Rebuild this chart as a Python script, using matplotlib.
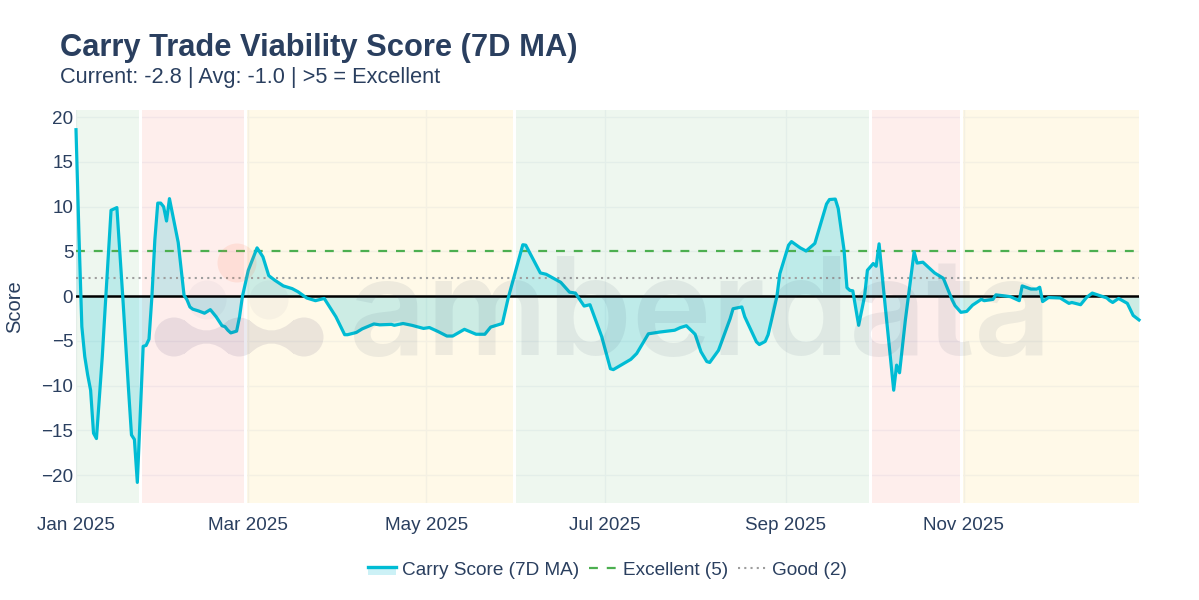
"""Carry trade viability score chart with regime bands and a watermark."""
from __future__ import annotations

import matplotlib

matplotlib.use("Agg")

import matplotlib.dates as mdates
import matplotlib.pyplot as plt
import pandas as pd
from matplotlib.colors import to_rgba
from matplotlib.legend_handler import HandlerBase
from matplotlib.lines import Line2D
from matplotlib.patches import Circle, PathPatch, Patch, Rectangle
from matplotlib.path import Path

START = pd.Timestamp("2025-01-01")

# days since START
DAYS = [
    0, 1, 2, 3, 4, 5, 6, 7, 9, 10, 12, 14, 16, 18, 19, 20, 21, 23, 24, 25, 26, 27, 28, 29, 30,
    31, 32, 35, 37, 38, 39, 40, 42, 44, 46, 48, 50, 51, 52, 53, 55, 56, 57, 59, 62, 64, 66, 68,
    71, 74, 76, 79, 82, 85, 89, 92, 93, 96, 98, 102, 104, 108, 109, 112, 115, 119, 121, 124,
    127, 129, 133, 137, 140, 142, 146, 148, 153, 154, 159, 161, 166, 169, 171, 174, 176, 180,
    183, 184, 190, 192, 196, 200, 205, 207, 209, 212, 214, 216, 217, 220, 224, 225, 228, 229,
    233, 234, 236, 237, 240, 241, 244, 245, 248, 250, 253, 255, 257, 258, 260, 261, 263, 264,
    265, 266, 268, 270, 271, 273, 274, 275, 277, 280, 281, 282, 284, 287, 288, 290, 294, 297,
    300, 301, 303, 305, 307, 310, 311, 314, 315, 320, 323, 324, 327, 329, 330, 331, 333, 337,
    340, 341, 344, 346, 348, 353, 354, 355, 357, 360, 362, 364,
]
CARRY_SCORE = [
    18.6, 7.0, -3.4, -6.75, -8.8, -10.5, -15.3, -15.9, -6.75, -1.2, 9.6, 9.9, 0.0, -10.5, -15.5,
    -16.0, -20.8, -5.6, -5.5, -4.8, 0.0, 6.3, 10.4, 10.4, 10.0, 8.4, 10.9, 6.0, 0.1, -0.4, -1.2,
    -1.45, -1.65, -1.9, -1.5, -2.3, -3.3, -3.4, -3.8, -4.1, -3.9, -2.3, 0.0, 2.9, 5.4, 4.4, 2.3,
    1.8, 1.15, 0.85, 0.5, -0.2, -0.5, -0.25, -2.3, -4.3, -4.3, -4.05, -3.65, -3.1, -3.2, -3.15,
    -3.25, -3.05, -3.25, -3.6, -3.5, -3.95, -4.45, -4.45, -3.7, -4.25, -4.25, -3.45, -3.05, -0.2,
    5.75, 5.7, 2.6, 2.45, 1.55, 0.45, 0.35, -1.1, -0.95, -4.5, -8.1, -8.2, -7.05, -6.4, -4.2,
    -4.0, -3.8, -3.5, -3.3, -4.25, -6.2, -7.3, -7.4, -6.05, -2.5, -1.4, -1.2, -2.3, -5.1, -5.4,
    -5.05, -4.3, -0.05, 2.5, 5.7, 6.1, 5.4, 5.05, 5.9, 8.1, 10.3, 10.8, 10.85, 9.8, 5.15, 0.95,
    0.65, 0.6, -3.25, -0.05, 2.9, 3.65, 3.35, 5.85, -0.8, -10.5, -7.7, -8.55, -2.65, 4.95, 3.7,
    3.8, 2.6, 2.0, -0.4, -1.05, -1.8, -1.7, -1.0, -0.35, -0.5, -0.35, 0.15, -0.05, -0.5, 1.15,
    0.8, 0.8, 1.0, -0.6, -0.15, -0.2, -0.8, -0.7, -0.95, -0.15, 0.35, -0.2, -0.5, -0.7, -0.25,
    -0.8, -2.15, -2.65,
]

# regime bands: first day, last day, colour
BAND_STARTS = ["2025-01-01", "2025-01-23", "2025-02-28", "2025-05-31", "2025-09-30", "2025-10-31"]
BAND_ENDS = ["2025-01-23", "2025-02-28", "2025-05-31", "2025-09-30", "2025-10-31", "2025-12-31"]
BAND_COLORS = ["#4CAF50", "#F44336", "#FFC107", "#4CAF50", "#F44336", "#FFC107"]

EXCELLENT = 5
GOOD = 2
Y_TICKS = [-20, -15, -10, -5, 0, 5, 10, 15, 20]
X_TICKS = ["2025-01-01", "2025-03-01", "2025-05-01", "2025-07-01", "2025-09-01", "2025-11-01"]

INK = "#2A3F5F"
CYAN = "#00BCD4"
DASHED = (0, (4, 4))
DOTTED = (0, (1, 2))
FIG_W, FIG_H = 1199, 600


class CarryHandler(HandlerBase):
    """Plotly-style legend key: thick line with the fill showing underneath."""

    def create_artists(self, legend, orig_handle, xdescent, ydescent, width, height, fontsize, trans):
        mid = height / 2 - ydescent
        fill = Rectangle((-xdescent, mid - 5), width, 6, facecolor=to_rgba(CYAN, 0.2),
                         edgecolor="none", transform=trans)
        line = Line2D([-xdescent, width - xdescent], [mid + 1, mid + 1], color=CYAN, lw=2.4,
                      transform=trans)
        return [fill, line]


def neck(x0, x1, cy):
    """Concave link between two logo circles."""
    xm = (x0 + x1) / 2
    verts = [(x0, cy - 17), (xm, cy + 4), (x1, cy - 17), (x1, cy + 17), (xm, cy - 4), (x0, cy + 17),
             (x0, cy - 17)]
    codes = [Path.MOVETO, Path.CURVE3, Path.CURVE3, Path.LINETO, Path.CURVE3, Path.CURVE3,
             Path.CLOSEPOLY]
    return Path(verts, codes)


def blob(cx, cy, r=19.5):
    circle = Path.unit_circle()
    return Path(circle.vertices * r + [cx, cy], circle.codes)


plt.rcParams["font.family"] = ["Liberation Sans", "DejaVu Sans"]

dates = START + pd.to_timedelta(DAYS, unit="D")

fig = plt.figure(figsize=(FIG_W / 100, FIG_H / 100), dpi=100)
ax = fig.add_axes([76 / FIG_W, 1 - 503 / FIG_H, (1139 - 76) / FIG_W, (503 - 110) / FIG_H])

for start, end, color in zip(BAND_STARTS, BAND_ENDS, BAND_COLORS):
    ax.axvspan(pd.Timestamp(start), pd.Timestamp(end), facecolor=to_rgba(color, 0.09),
               edgecolor="none", zorder=1)
for boundary in BAND_ENDS[:-1]:
    ax.axvline(pd.Timestamp(boundary), color="white", lw=2.2, zorder=1.5)

ax.fill_between(dates, CARRY_SCORE, 0, color=CYAN, alpha=0.2, linewidth=0, zorder=2)
ax.axhline(GOOD, color="#9E9E9E", lw=1.5, ls=DOTTED, zorder=3)
ax.axhline(EXCELLENT, color="#4CAF50", lw=1.6, ls=DASHED, zorder=3)
ax.axhline(0, color="black", lw=1.8, zorder=4)
ax.plot(dates, CARRY_SCORE, color=CYAN, lw=2.3, zorder=5, solid_joinstyle="round", clip_on=False)

ax.set_xlim(pd.Timestamp("2025-01-01"), pd.Timestamp("2025-12-31"))
ax.set_ylim(-23.1, 20.8)
ax.set_xticks([pd.Timestamp(d) for d in X_TICKS])
ax.xaxis.set_major_formatter(mdates.DateFormatter("%b %Y"))
ax.set_yticks(Y_TICKS)
ax.set_yticklabels([f"\u2212{-v}" if v < 0 else str(v) for v in Y_TICKS])
ax.grid(True, color="#F3F5F9", lw=1)
ax.set_axisbelow(True)
ax.tick_params(length=0, labelsize=13.6, labelcolor=INK, pad=2)
ax.tick_params(axis="x", pad=10)
for spine in ax.spines.values():
    spine.set_visible(False)
ax.set_ylabel("Score", fontsize=14.5, color=INK, labelpad=0)
ax.yaxis.set_label_coords(-52 / (1139 - 76), 0.5)

fig.text(60 / FIG_W, 1 - 56 / FIG_H, "Carry Trade Viability Score (7D MA)", fontsize=22.2,
         fontweight="bold", color=INK, va="baseline")
fig.text(60 / FIG_W, 1 - 83 / FIG_H, "Current: -2.8 | Avg: -1.0 | >5 = Excellent", fontsize=15.7,
         color=INK, va="baseline")

handles = [
    Patch(label="Carry Score (7D MA)"),
    Line2D([], [], color="#4CAF50", lw=1.6, ls=DASHED, label=f"Excellent ({EXCELLENT})"),
    Line2D([], [], color="#9E9E9E", lw=1.5, ls=DOTTED, label=f"Good ({GOOD})"),
]
fig.legend(handles=handles, handler_map={Patch: CarryHandler()}, loc="center",
           bbox_to_anchor=(607.5 / FIG_W, 1 - 570 / FIG_H), ncol=3, frameon=False, fontsize=13.65,
           labelcolor=INK, handlelength=1.48, handletextpad=0.32, columnspacing=0.53)

# watermark sits over the plot, drawn on a pixel-sized overlay
wm = fig.add_axes([0, 0, 1, 1], zorder=10)
wm.set_xlim(0, FIG_W)
wm.set_ylim(FIG_H, 0)
wm.axis("off")
wm.patch.set_alpha(0)
WM_COLOR = "#4A3F6F"
chain = Path.make_compound_path(
    blob(174, 337), blob(239, 337), blob(304, 337), neck(184, 229, 337), neck(249, 294, 337)
)
wm.add_patch(PathPatch(chain, facecolor=WM_COLOR, edgecolor="none", alpha=0.11))
for cx, cy in [(207, 300), (269, 300)]:
    wm.add_patch(Circle((cx, cy), 19.5, facecolor=WM_COLOR, edgecolor="none", alpha=0.04))
wm.add_patch(Circle((237, 263), 19.5, facecolor="#FF7043", edgecolor="none", alpha=0.12))
wm.text(349, 355, "amberdata", fontsize=97, color="#2A3F5F", alpha=0.08, family="Inter",
        fontweight="semibold", va="baseline")

fig.savefig("out.png", dpi=100)
